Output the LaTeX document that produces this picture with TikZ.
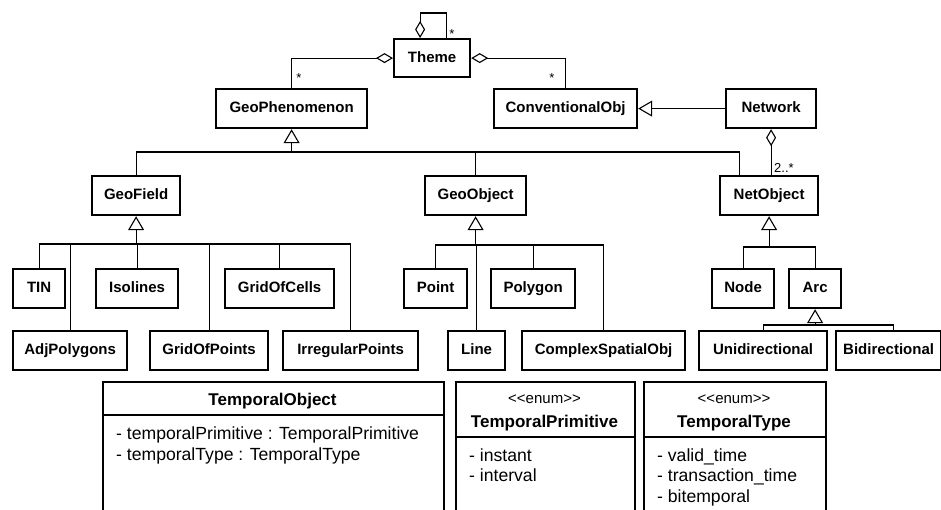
\documentclass[tikz,border=0pt]{standalone}
\usepackage{fontspec}
\setmainfont{Liberation Sans}
\usetikzlibrary{arrows.meta}

\begin{document}
\begin{tikzpicture}[
    x=1pt, y=-1pt,
    cls/.style={draw, rectangle, line width=2.2pt, inner sep=0pt, anchor=north west, minimum height=39pt,
      font=\fontsize{15}{18}\selectfont\bfseries, text height=11pt, text depth=3pt},
    bigcls/.style={draw, rectangle, line width=2.2pt, inner sep=0pt, anchor=north west, minimum height=150pt},
    conn/.style={draw, line width=1.1pt},
    gen/.style={conn, -{Triangle[open, length=14pt, width=16pt]}}, % heranca
    agg/.style={conn, {Diamond[open, length=17pt, width=10pt]}-}, % agregacao
    mult/.style={font=\fontsize{13}{15}\selectfont, inner sep=0pt},
    title/.style={font=\fontsize{17}{20}\selectfont\bfseries, inner sep=0pt, anchor=base},
    stereo/.style={font=\fontsize{15}{18}\selectfont, inner sep=0pt, anchor=base},
    attr/.style={font=\fontsize{17.6}{20}\selectfont, inner sep=0pt, anchor=base west}
    ]
    \useasboundingbox[fill=white] (0,0) rectangle (941,509);

    \node[cls, minimum width=76pt, minimum height=38pt] (theme) at (393,38) {Theme};
    \node[cls, minimum width=151pt] (geoph) at (215,88) {GeoPhenomenon};
    \node[cls, minimum width=143pt] (conv) at (493,88) {ConventionalObj};
    \node[cls, minimum width=90pt] (network) at (725,88) {Network};

    \node[cls, minimum width=88pt] (geofield) at (91,175) {GeoField};
    \node[cls, minimum width=101pt] (geoobj) at (424,175) {GeoObject};
    \node[cls, minimum width=98pt] (netobj) at (719,175) {NetObject};

    \node[cls, minimum width=52pt] (tin) at (12,268) {TIN};
    \node[cls, minimum width=82pt] (isolines) at (95,268) {Isolines};
    \node[cls, minimum width=109pt] (gridcells) at (224,268) {GridOfCells};
    \node[cls, minimum width=63pt] (point) at (403,268) {Point};
    \node[cls, minimum width=84pt] (polygon) at (490,268) {Polygon};
    \node[cls, minimum width=62pt] (node) at (711,268) {Node};
    \node[cls, minimum width=52pt] (arc) at (788,268) {Arc};

    \node[cls, minimum width=114pt] (adjpoly) at (12,330) {AdjPolygons};
    \node[cls, minimum width=118pt] (gridpts) at (149,330) {GridOfPoints};
    \node[cls, minimum width=135pt] (irreg) at (282,330) {IrregularPoints};
    \node[cls, minimum width=57pt] (line) at (447,330) {Line};
    \node[cls, minimum width=163pt] (complex) at (521,330) {ComplexSpatialObj};
    \node[cls, minimum width=128pt] (uni) at (698,330) {Unidirectional};
    \node[cls, minimum width=105pt] (bidi) at (835,330) {Bidirectional};

    % classes temporais
    \node[bigcls, minimum width=341pt] (tobj) at (102,381) {};
    \node[bigcls, minimum width=179pt] (tprim) at (455,381) {};
    \node[bigcls, minimum width=182pt] (ttype) at (643,381) {};
    \draw[conn] (tobj.west |- 0,415) -- (tobj.east |- 0,415);
    \draw[conn] (tprim.west |- 0,437) -- (tprim.east |- 0,437);
    \draw[conn] (ttype.west |- 0,437) -- (ttype.east |- 0,437);

    \node[title] (tobjname) at (272.5,405) {TemporalObject};
    \node[attr] (tobja1) at (116,439) {- temporalPrimitive : TemporalPrimitive};
    \node[attr] (tobja2) at (116,460) {- temporalType : TemporalType};

    \node[stereo] (tprimst) at (544.5,403) {{<}{<}enum{>}{>}};
    \node[title] (tprimname) at (544.5,427) {TemporalPrimitive};
    \node[attr] (tprima1) at (469,461) {- instant};
    \node[attr] (tprima2) at (469,481) {- interval};

    \node[stereo] (ttypest) at (734,403) {{<}{<}enum{>}{>}};
    \node[title] (ttypename) at (734,427) {TemporalType};
    \node[attr] (ttypea1) at (657,461) {- valid\_time};
    \node[attr] (ttypea2) at (657,481) {- transaction\_time};
    \node[attr] (ttypea3) at (657,502) {- bitemporal};

    % agregacoes
    \draw[agg] ([xshift=-12pt]theme.north) -- ++(0,-25) -| ([xshift=14pt]theme.north);
    \draw[agg] (theme.west) -| (geoph.north);
    \draw[agg] (theme.east) -| (conv.north);
    \draw[agg] (network.south) -- (network.south |- netobj.north);
    \node[mult, anchor=base] (m1) at (452,38) {*};
    \node[mult, anchor=base] (m2) at (299,82) {*};
    \node[mult, anchor=base] (m3) at (552,82) {*};
    \node[mult, anchor=base west] (m4) at (774,172) {2..*};

    % generalizacoes
    \draw[gen] (network.west) -- (conv.east);

    \coordinate (bphen) at (geoph.south |- 0,152);
    \draw[gen] (bphen) -- (geoph.south);
    \draw[conn] (geofield.north) |- (bphen) -| ([xshift=-30pt]netobj.north);
    \draw[conn] (geoobj.north) -- (geoobj.north |- bphen);

    \coordinate (bfield) at (geofield.south |- 0,244);
    \draw[gen] (bfield) -- (geofield.south);
    \draw[conn] (tin.north) |- (bfield) -| (irreg.north);
    \draw[conn] (adjpoly.north) -- (adjpoly.north |- bfield);
    \draw[conn] (isolines.north) -- (isolines.north |- bfield);
    \draw[conn] (gridpts.north) -- (gridpts.north |- bfield);
    \draw[conn] (gridcells.north) -- (gridcells.north |- bfield);

    \coordinate (bobj) at (geoobj.south |- 0,245);
    \draw[gen] (bobj) -- (geoobj.south);
    \draw[conn] (point.north) |- (bobj) -| (complex.north);
    \draw[conn] (line.north) -- (line.north |- bobj);
    \draw[conn] (polygon.north) -- (polygon.north |- bobj);

    \coordinate (bnet) at (netobj.south |- 0,247);
    \draw[gen] (bnet) -- (netobj.south);
    \draw[conn] (node.north) |- (bnet) -| (arc.north);

    \coordinate (barc) at (arc.south |- 0,325);
    \draw[gen] (barc) -- (arc.south);
    \draw[conn] (uni.north) |- (barc) -| ([xshift=5pt]bidi.north);
\end{tikzpicture}
\end{document}
